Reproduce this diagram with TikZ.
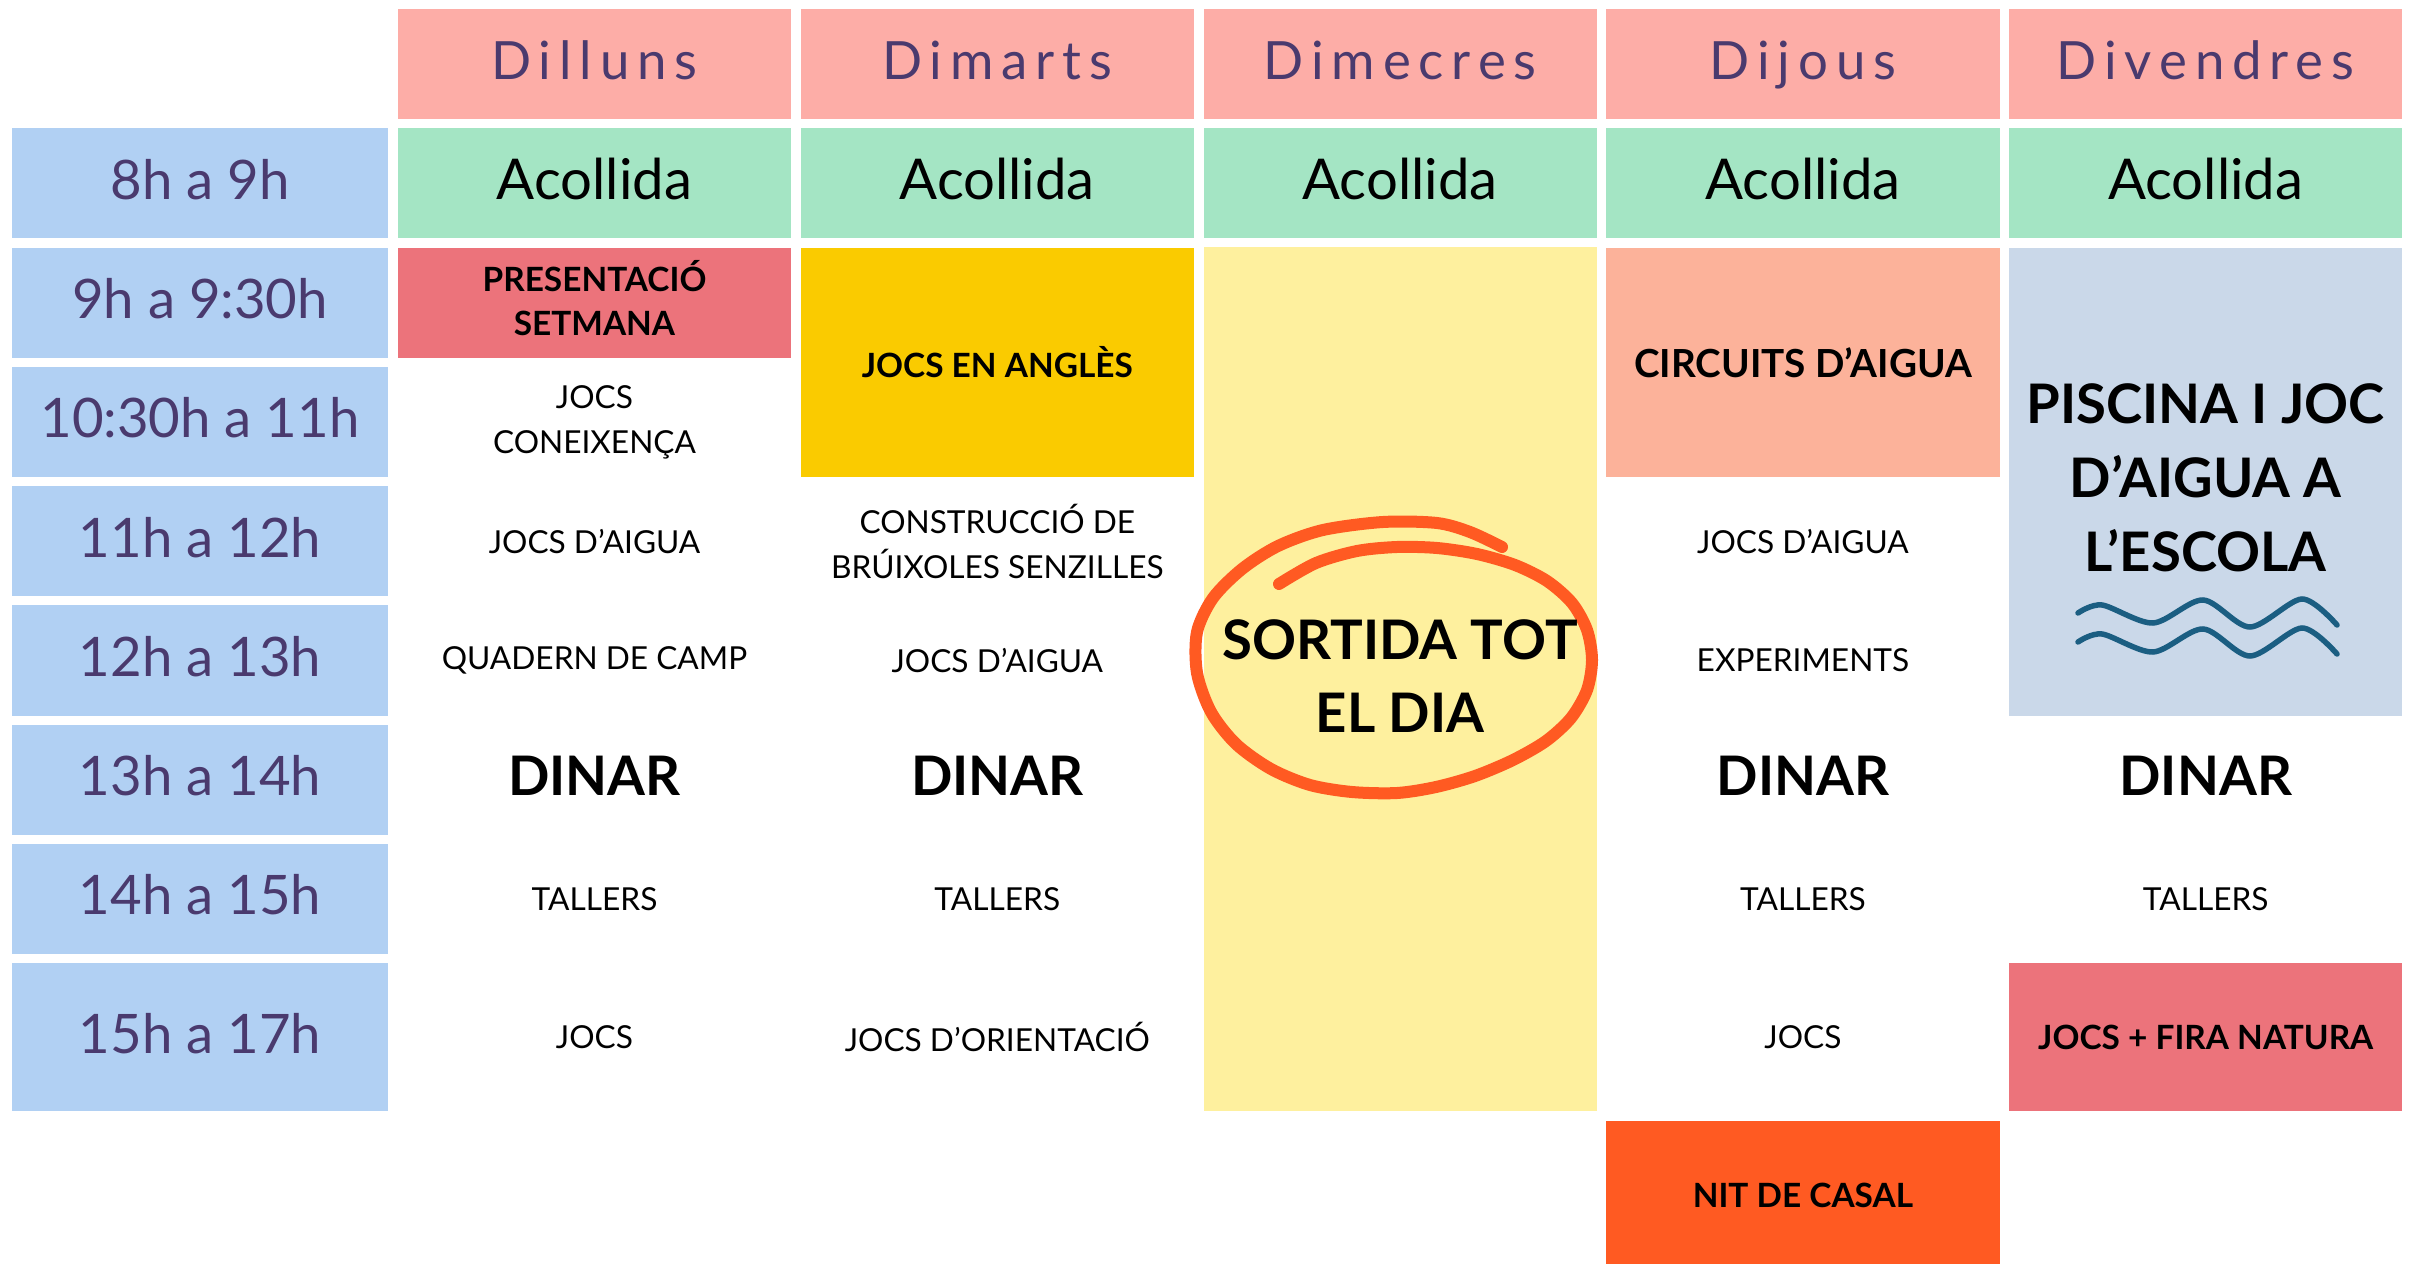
\documentclass[tikz,border=0pt]{standalone}
\usepackage{fontspec}
\setmainfont{Lato}
\usepackage{tikz}
\definecolor{dayhd}{HTML}{FDADA7}
\definecolor{hourbg}{HTML}{B1D0F3}
\definecolor{acollbg}{HTML}{A4E5C4}
\definecolor{lila}{HTML}{4A3A6E}
\definecolor{vermell}{HTML}{EC737B}
\definecolor{groc}{HTML}{FACB00}
\definecolor{grocpal}{HTML}{FEF09E}
\definecolor{salmo}{HTML}{FCB29A}
\definecolor{piscbg}{HTML}{CAD8E9}
\definecolor{taronja}{HTML}{FF5A22}
\definecolor{onada}{HTML}{1B5E82}

\begin{document}
\begin{tikzpicture}[x=0.01cm, y=-0.01cm,
    cell/.style={minimum width=3.93cm, minimum height=1.1cm, inner sep=0pt, align=center},
    oneline/.style={text height=11pt, text depth=2pt},
    day/.style={cell, oneline, fill=dayhd, text=lila, font=\fontsize{15}{18}\selectfont\addfontfeature{LetterSpace=15}},
    hour/.style={cell, oneline, minimum width=3.76cm, fill=hourbg, text=lila, font=\fontsize{15.5}{18}\selectfont},
    acoll/.style={cell, oneline, fill=acollbg, font=\fontsize{16}{19}\selectfont},
    act/.style={cell, font=\fontsize{9}{12.8}\selectfont},
    bact/.style={cell, font=\bfseries\fontsize{9.5}{12.3}\selectfont},
    dinar/.style={cell, oneline, font=\bfseries\fontsize{15.5}{18}\selectfont},
    big/.style={cell, font=\bfseries\fontsize{15.5}{21}\selectfont},
    wave/.style={draw=onada, line width=0.055cm, line cap=round}]
    \path[use as bounding box, fill=white] (0,0) rectangle (2412,1264);

    \node[day] (dl) at (594.5,64) {Dilluns};
    \node[day] (dm) at (997.3,64) {Dimarts};
    \node[day] (dc) at (1400.1,64) {Dimecres};
    \node[day] (dj) at (1802.9,64) {Dijous};
    \node[day] (dv) at (2205.7,64) {Divendres};

    \node[hour] (t8) at (200,183.3) {8h a 9h};
    \node[hour] (t9) at (200,302.6) {9h a 9:30h};
    \node[hour] (t10) at (200,421.9) {10:30h a 11h};
    \node[hour] (t11) at (200,541.2) {11h a 12h};
    \node[hour] (t12) at (200,660.5) {12h a 13h};
    \node[hour] (t13) at (200,779.8) {13h a 14h};
    \node[hour] (t14) at (200,899.1) {14h a 15h};
    \node[hour, minimum height=1.476cm] (t15) at (200,1037.2) {15h a 17h};

    \node[acoll] (dl8) at (594.5,183.3) {Acollida};
    \node[acoll] (dm8) at (997.3,183.3) {Acollida};
    \node[acoll] (dc8) at (1400.1,183.3) {Acollida};
    \node[acoll] (dj8) at (1802.9,183.3) {Acollida};
    \node[acoll] (dv8) at (2205.7,183.3) {Acollida};

    \node[cell, fill=vermell] (dl9) at (594.5,302.6) {};
    \node[bact, minimum height=0pt] (presenta) at (594.5,298) {PRESENTACIÓ\\SETMANA};
    \node[act] (dl10) at (594.5,421.9) {JOCS\\CONEIXENÇA};
    \node[act] (dl11) at (594.5,541.2) {JOCS D’AIGUA};
    \node[act] (dl12) at (594.5,660.5) {QUADERN DE CAMP};
    \node[dinar] (dl13) at (594.5,779.8) {DINAR};
    \node[act] (dl14) at (594.5,899.1) {TALLERS};
    \node[act] (dl15) at (594.5,1037.2) {JOCS};

    \node[bact, fill=groc, minimum height=2.293cm] (dm9) at (997.3,362.3) {JOCS EN ANGLÈS};
    \node[act] (dm11) at (997.3,541.2) {CONSTRUCCIÓ DE\\BRÚIXOLES SENZILLES};
    \node[act] (dm12) at (997.3,660.5) {JOCS D’AIGUA};
    \node[dinar] (dm13) at (997.3,779.8) {DINAR};
    \node[act] (dm14) at (997.3,899.1) {TALLERS};
    \node[act] (dm15) at (997.3,1037.2) {JOCS D’ORIENTACIÓ};

    \node[cell, fill=grocpal, minimum height=8.634cm] (dc9) at (1400.1,679.3) {};
    \draw[taronja, line width=0.12cm, line cap=round] plot[smooth] coordinates {
        (1279,584) (1316,563) (1357,551) (1397,547) (1437,548) (1477,554) (1515,565)
        (1547,581) (1572,603) (1587,630) (1592,660) (1587,690) (1571,718) (1546,741)
        (1513,760) (1475,776) (1436,787) (1397,793) (1352,792) (1310,785) (1271,769)
        (1236,744) (1211,712) (1197,673) (1197,632) (1213,598) (1242,569) (1278,546)
        (1323,530) (1383,522) (1437,523) (1470,532) (1502,547)};
    \node[big] (sortida) at (1400.1,676) {SORTIDA TOT\\EL DIA};

    \node[bact, fill=salmo, minimum height=2.293cm, font=\bfseries\fontsize{11}{13}\selectfont] (dj9) at (1802.9,362.3) {CIRCUITS D’AIGUA};
    \node[act] (dj11) at (1802.9,541.2) {JOCS D’AIGUA};
    \node[act] (dj12) at (1802.9,660.5) {EXPERIMENTS};
    \node[dinar] (dj13) at (1802.9,779.8) {DINAR};
    \node[act] (dj14) at (1802.9,899.1) {TALLERS};
    \node[act] (dj15) at (1802.9,1037.2) {JOCS};
    \node[bact, fill=taronja, minimum height=1.48cm] (dj16) at (1802.9,1195) {NIT DE CASAL};

    \node[cell, fill=piscbg, minimum height=4.679cm] (dv9) at (2205.7,481.6) {};
    \node[big] (piscina) at (2205.7,477.5) {PISCINA I JOC\\D’AIGUA A\\L’ESCOLA};
    \draw[wave] plot[smooth] coordinates {(2078,613) (2102,605) (2153,623) (2203,600) (2250,627) (2302,599) (2337,625)};
    \draw[wave] plot[smooth] coordinates {(2078,642) (2102,634) (2153,652) (2203,629) (2250,656) (2302,628) (2337,654)};
    \node[dinar] (dv13) at (2205.7,779.8) {DINAR};
    \node[act] (dv14) at (2205.7,899.1) {TALLERS};
    \node[bact, fill=vermell, minimum height=1.476cm] (dv15) at (2205.7,1037.2) {JOCS + FIRA NATURA};
\end{tikzpicture}
\end{document}
